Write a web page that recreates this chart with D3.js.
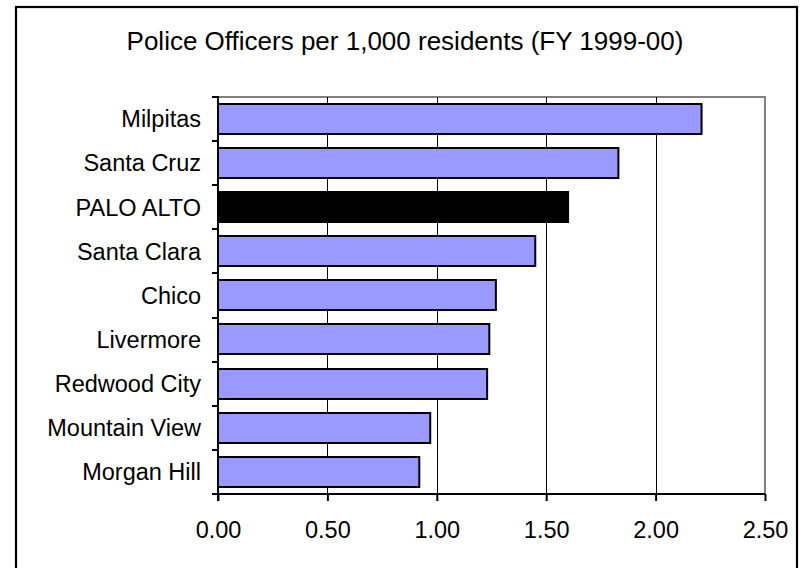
<!DOCTYPE html>
<html>
<head>
<meta charset="utf-8">
<script src="https://cdn.jsdelivr.net/npm/d3@7"></script>
<style>
  html, body { margin: 0; padding: 0; background: #fff; }
  svg { display: block; }
  text { font-family: "Liberation Sans", Arial, sans-serif; fill: #000; }
</style>
</head>
<body>
<svg id="chart" width="803" height="568"></svg>
<script>
// Police officers per 1,000 residents, FY 1999-00
const cities = ["Milpitas", "Santa Cruz", "PALO ALTO", "Santa Clara", "Chico",
                "Livermore", "Redwood City", "Mountain View", "Morgan Hill"];
const officers = [2.21, 1.83, 1.60, 1.45, 1.27, 1.24, 1.23, 0.97, 0.92];
const highlight = "PALO ALTO";
const xTicks = [0, 0.5, 1.0, 1.5, 2.0, 2.5];
const titleText = "Police Officers per 1,000 residents (FY 1999-00)";

const svg = d3.select("#chart");
const plot = { left: 218, right: 765, top: 97, bottom: 494 };
const crisp = v => Math.round(v) + 0.5;

// outer chart frame
svg.append("rect")
  .attr("x", 16).attr("y", 7)
  .attr("width", 781).attr("height", 570)
  .attr("fill", "none").attr("stroke", "#000").attr("stroke-width", 2.2);

svg.append("text")
  .attr("x", 405).attr("y", 50)
  .attr("text-anchor", "middle")
  .style("font-size", "26px")
  .text(titleText);

const x = d3.scaleLinear().domain([0, 2.5]).range([plot.left, plot.right]);
const y = d3.scaleBand().domain(cities).range([plot.top, plot.bottom])
  .paddingInner(0.31).paddingOuter(0.155);

// plot area frame (grey top and right edge)
svg.append("rect")
  .attr("x", plot.left).attr("y", plot.top)
  .attr("width", plot.right - plot.left).attr("height", plot.bottom - plot.top)
  .attr("fill", "none").attr("stroke", "#808080").attr("stroke-width", 2);

// vertical gridlines
svg.append("g")
  .selectAll("line")
  .data(xTicks.filter(t => t > 0 && t < 2.5))
  .join("line")
  .attr("x1", d => crisp(x(d))).attr("x2", d => crisp(x(d)))
  .attr("y1", plot.top).attr("y2", plot.bottom)
  .attr("stroke", "#000").attr("stroke-width", 1);

// bars
svg.append("g")
  .selectAll("rect")
  .data(cities.map((c, i) => ({ city: c, value: officers[i] })))
  .join("rect")
  .attr("x", x(0))
  .attr("y", d => Math.round(y(d.city)))
  .attr("width", d => x(d.value) - x(0))
  .attr("height", Math.round(y.bandwidth()))
  .attr("fill", d => d.city === highlight ? "#000" : "#9999FF")
  .attr("stroke", "#000").attr("stroke-width", 2);

// x axis
const xAxis = svg.append("g")
  .attr("transform", `translate(0,${plot.bottom})`)
  .call(d3.axisBottom(x).tickValues(xTicks).tickFormat(d3.format(".2f"))
    .tickSizeInner(7).tickSizeOuter(0).tickPadding(10));
xAxis.select(".domain").attr("stroke", "#000").attr("stroke-width", 2)
  .attr("d", `M${plot.left - 6},0H${plot.right}`);
xAxis.selectAll(".tick line").attr("stroke", "#000").attr("stroke-width", 2);
xAxis.selectAll(".tick text")
  .attr("dy", null).attr("y", 44)
  .style("font-size", "23.5px").attr("fill", "#000");

// y axis: category ticks at band boundaries
const bounds = d3.range(cities.length + 1).map(i => Math.round(plot.top + i * (plot.bottom - plot.top) / cities.length));
const yAxis = svg.append("g");
yAxis.append("line")
  .attr("x1", plot.left).attr("x2", plot.left)
  .attr("y1", plot.top - 1).attr("y2", plot.bottom + 7)
  .attr("stroke", "#000").attr("stroke-width", 2);
yAxis.selectAll("line.tk")
  .data(bounds)
  .join("line")
  .attr("class", "tk")
  .attr("x1", plot.left - 6).attr("x2", plot.left)
  .attr("y1", d => d).attr("y2", d => d)
  .attr("stroke", "#000").attr("stroke-width", 2);
yAxis.selectAll("text")
  .data(cities)
  .join("text")
  .attr("x", plot.left - 17)
  .attr("y", d => y(d) + y.bandwidth() / 2 + 8.3)
  .attr("text-anchor", "end")
  .style("font-size", "23.5px")
  .text(d => d);
</script>
</body>
</html>
